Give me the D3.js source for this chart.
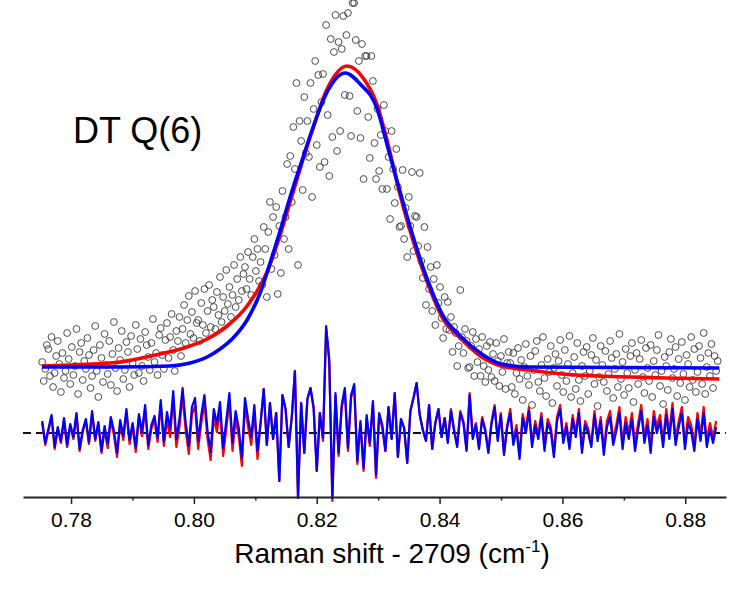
<!DOCTYPE html>
<html>
<head>
<meta charset="utf-8">
<script src="https://cdnjs.cloudflare.com/ajax/libs/d3/7.8.5/d3.min.js"></script>
<style>
  body { margin: 0; background: #fff; }
  svg { display: block; font-family: Arial, "Liberation Sans", sans-serif; }
</style>
</head>
<body>
<svg></svg>
<script>
// ---- data (intensity in arbitrary units, 0 = fitted baseline) ----
var title = "DT Q(6)";
var xLabel = "Raman shift - 2709 (cm";
var majorTicks = [0.78, 0.80, 0.82, 0.84, 0.86, 0.88];
var minorTicks = [0.79, 0.81, 0.83, 0.85, 0.87];

// measured spectrum: evenly spaced channels
var specStart = 0.7753;
var specStep = 0.000254;
var specValues = [
  5,-14,-2,22,18,-9,30,-20,-6,11,
  26,3,-25,14,-11,-4,34,8,-17,20,
  -8,1,38,-27,15,24,-13,6,-2,29,
  12,-21,-9,17,41,-4,-30,22,9,-15,
  33,2,-7,26,-18,13,45,-1,-24,19,
  7,36,-12,-3,25,15,-20,31,4,-8,
  42,18,-6,28,1,-14,35,22,10,-3,
  24,48,5,14,-8,32,39,12,-2,27,
  44,9,30,53,17,-4,36,26,50,11,
  38,62,24,47,71,33,55,29,76,44,
  47,26,64,42,78,34,56,82,40,67,
  60,38,75,52,90,45,70,56,97,63,
  80,50,72,102,60,88,67,110,76,93,
  100,78,115,88,72,110,128,96,118,86,
  105,82,140,118,70,135,165,98,150,112,
  160,73,141,94,176,128,150,203,118,211,
  165,240,198,284,102,246,226,177,270,214,
  246,210,284,170,258,306,222,292,200,265,
  293,205,342,252,191,328,230,315,352,216,
  325,236,318,351,272,332,354,271,231,364,
  364,327,256,306,229,323,188,311,311,250,
  209,311,286,224,188,258,196,232,178,262,
  236,178,210,148,236,198,164,218,180,140,
  141,197,128,159,110,170,141,195,116,151,
  150,121,194,106,89,140,62,120,78,100,
  56,88,42,102,64,80,49,29,70,38,
  65,37,50,15,40,34,1,21,77,30,
  14,38,26,-1,0,21,35,-9,28,5,
  18,-9,30,1,-15,21,-3,25,-10,13,
  -14,24,6,-19,11,-5,28,-22,4,15,
  4,-20,14,-27,-6,19,-12,7,-33,0,
  23,-9,-18,11,-38,-3,16,26,-15,-24,
  2,30,-11,-29,8,-5,21,-36,-1,13,
  -19,6,27,-8,-25,17,-14,3,31,-30,
  -6,10,-22,24,-13,-34,1,15,-9,20,
  -27,-4,12,29,-17,7,-39,-10,21,2,
  -15,16,-24,-7,26,9,-31,-2,13,-20,
  33,-12,5,-28,18,-6,-21,11,24,-35,
  -3,14,-17,8,27,-10,-26,19,-1,-14,
  22,-30,6,-8,17,32,-19,-4,-37,10,
  1,-23,15,28,-11,-2,20,-29,8,-16,
  25,-7,-33,12,3,-20,30,-13,18,-25,
  -5,21,9,-17,34,-27,0,14,-9,23,
  -21,11,-4,6
];

// fitted profiles (sampled)
var blueFitX = [0.77528,0.78798,0.79612,0.79938,0.80215,0.80427,0.80638,0.80866,0.81078,0.81241,
  0.81404,0.81567,0.81779,0.81925,0.82169,0.82463,0.82707,0.82984,0.83147,0.83244,
  0.83358,0.83521,0.83798,0.84059,0.84336,0.84661,0.85003,0.85443,0.88554];
var blueFitY = [0,0,1,4,10,18,29,47,74,104,136,170,210,237,275,294,283,258,222,200,175,140,88,51,31,14,3,0,-1];

var redFitX = [0.77528,0.77984,0.78798,0.79450,0.79889,0.80215,0.80541,0.80866,0.81192,0.81404,
  0.81567,0.81893,0.82169,0.82495,0.82756,0.82984,0.83147,0.83358,0.83521,0.83798,
  0.84059,0.84336,0.84661,0.85003,0.85443,0.85997,0.86567,0.87121,0.87674,0.88554];
var redFitY = [1,2,5,13,20,28,41,61,95,132,165,230,278,301,289,262,226,172,136,85,48,29,11,1,-3,-7,-9,-10,-11,-12];

// residuals (data - fit), every other channel
var residStart = 0.7753;
var residStep = 0.000508;
var residOffset = -66;
var blueResid = [
  12,-10,4,18,-14,6,-8,15,-12,9,
  -4,20,-16,3,14,-9,22,-6,11,-18,
  7,-11,16,2,-20,13,-3,24,-7,10,
  -15,19,1,28,-12,8,17,-5,33,-9,
  21,4,42,-6,14,45,10,-13,26,35,
  -8,18,38,2,-19,24,9,31,-15,12,
  40,-10,22,5,-25,35,14,-4,28,-18,
  10,44,-12,30,-6,20,-48,38,24,-14,
  16,62,-65,30,-20,34,45,25,-38,20,
  -5,107,74,-65,40,-20,28,45,-15,38,
  49,-28,12,-35,18,-10,32,-42,20,8,
  -18,26,-6,40,-24,14,5,-30,22,35,
  50,18,3,-8,28,-16,10,24,-4,15,
  -10,22,2,-14,20,10,-18,38,-6,8,
  -16,14,2,-20,9,26,-8,18,-22,5,
  20,-12,4,-26,15,0,22,-14,8,-6,
  16,-18,10,2,-24,12,24,-10,6,-16,
  14,-4,20,-20,8,0,-14,18,-8,12,
  -22,6,16,-12,2,20,-16,10,-6,14,
  -18,4,22,-10,8,-20,16,0,12,-14,
  18,-6,24,-12,6,20,-16,10,2,-18,
  14,-8,20,-14,4,-10,6
];
var redResid = [
  10,-12,2,16,-16,4,-10,13,-14,7,
  -6,18,-18,1,12,-11,20,-8,9,-20,
  3,-15,12,-2,-24,9,-7,20,-11,6,
  -19,15,-3,24,-16,4,13,-9,29,-13,
  13,-4,34,-14,6,37,2,-21,18,27,
  -16,10,30,-6,-27,16,1,23,-23,4,
  32,-18,14,-3,-33,27,6,-12,20,-26,
  10,44,-12,30,-6,20,-48,38,24,-14,
  16,62,-65,30,-20,34,45,25,-38,20,
  -8,104,71,-68,37,-23,25,42,-18,35,
  46,-31,9,-38,15,-13,29,-45,17,5,
  -18,26,-6,40,-24,14,5,-30,22,35,
  50,18,3,-8,28,-16,10,24,-4,15,
  -8,24,4,-12,22,12,-16,40,-4,10,
  -14,16,4,-18,11,28,-6,20,-20,7,
  24,-8,8,-22,19,4,26,-10,12,-2,
  20,-14,14,6,-20,16,28,-6,10,-12,
  18,0,24,-16,12,4,-10,22,-4,16,
  -16,12,22,-6,8,26,-10,16,0,20,
  -12,10,28,-4,14,-14,22,6,18,-8,
  24,0,30,-6,12,26,-10,16,8,-12,
  20,-2,26,-8,10,-4,12
];

// ---- layout ----
var width = 747;
var height = 590;
var axisY = 497;

var svg = d3.select('svg')
  .attr('width', width)
  .attr('height', height);

var xScale = d3.scaleLinear().domain([0.77218, 0.88663]).range([23, 726]);
var yScale = d3.scaleLinear().domain([-130, 367]).range([axisY, 0]);

var spectrum = specValues.map(function(v, i){ return {x: specStart + i*specStep, y: v}; });
var blueFit = blueFitX.map(function(x, i){ return {x: x, y: blueFitY[i]}; });
var redFit = redFitX.map(function(x, i){ return {x: x, y: redFitY[i]}; });
var blueRes = blueResid.map(function(v, i){ return {x: residStart + i*residStep, y: v + residOffset}; });
var redRes = redResid.map(function(v, i){ return {x: residStart + i*residStep, y: v + residOffset}; });

// data points
svg.append('g')
  .selectAll('circle')
  .data(spectrum)
  .enter().append('circle')
  .attr('cx', d => xScale(d.x))
  .attr('cy', d => yScale(d.y))
  .attr('r', 3.4)
  .attr('fill', 'none')
  .attr('stroke', '#3a3a3a')
  .attr('stroke-width', 0.9);

// fits
var fitLine = d3.line()
  .x(d => xScale(d.x))
  .y(d => yScale(d.y))
  .curve(d3.curveMonotoneX);

svg.append('path')
  .attr('d', fitLine(redFit))
  .attr('fill', 'none')
  .attr('stroke', '#ff0000')
  .attr('stroke-width', 3.6);

svg.append('path')
  .attr('d', fitLine(blueFit))
  .attr('fill', 'none')
  .attr('stroke', '#0000ff')
  .attr('stroke-width', 3.6);

// residual zero line
svg.append('line')
  .attr('x1', xScale.range()[0])
  .attr('x2', xScale.range()[1])
  .attr('y1', yScale(residOffset))
  .attr('y2', yScale(residOffset))
  .attr('stroke', '#111')
  .attr('stroke-width', 1.8)
  .attr('stroke-dasharray', '8,5');

// residuals
var resLine = d3.line()
  .x(d => xScale(d.x))
  .y(d => yScale(d.y));

svg.append('path')
  .attr('d', resLine(redRes))
  .attr('fill', 'none')
  .attr('stroke', '#ff0000')
  .attr('stroke-width', 2.2)
  .attr('stroke-linejoin', 'round');

svg.append('path')
  .attr('d', resLine(blueRes))
  .attr('fill', 'none')
  .attr('stroke', '#0000ff')
  .attr('stroke-width', 2.2)
  .attr('stroke-linejoin', 'round');

// x axis
var xAxis = d3.axisBottom(xScale)
  .tickValues(majorTicks)
  .tickFormat(d3.format('.2f'))
  .tickSizeInner(7)
  .tickSizeOuter(0)
  .tickPadding(8);

var gx = svg.append('g')
  .attr('transform', 'translate(0,' + axisY + ')')
  .call(xAxis);
gx.select('.domain').attr('stroke', '#222').attr('stroke-width', 1.8);
gx.selectAll('.tick line').attr('stroke', '#222').attr('stroke-width', 1.5);
gx.selectAll('.tick text')
  .attr('fill', '#000')
  .style('font-size', '21px')
  .style('font-family', 'Arial, "Liberation Sans", sans-serif');

var minorAxis = d3.axisBottom(xScale)
  .tickValues(minorTicks)
  .tickFormat('')
  .tickSizeInner(3.5)
  .tickSizeOuter(0);

var gm = svg.append('g')
  .attr('transform', 'translate(0,' + axisY + ')')
  .call(minorAxis);
gm.select('.domain').remove();
gm.selectAll('.tick line').attr('stroke', '#222').attr('stroke-width', 1.5);

// labels
svg.append('text')
  .attr('x', 73)
  .attr('y', 143)
  .style('font-size', '36px')
  .attr('fill', '#000')
  .text(title);

var lab = svg.append('text')
  .attr('x', 392)
  .attr('y', 563)
  .attr('text-anchor', 'middle')
  .style('font-size', '28px')
  .attr('fill', '#000');
lab.append('tspan').text(xLabel);
lab.append('tspan').attr('dy', -11).style('font-size', '17px').text('-1');
lab.append('tspan').attr('dy', 11).text(')');
</script>
</body>
</html>
